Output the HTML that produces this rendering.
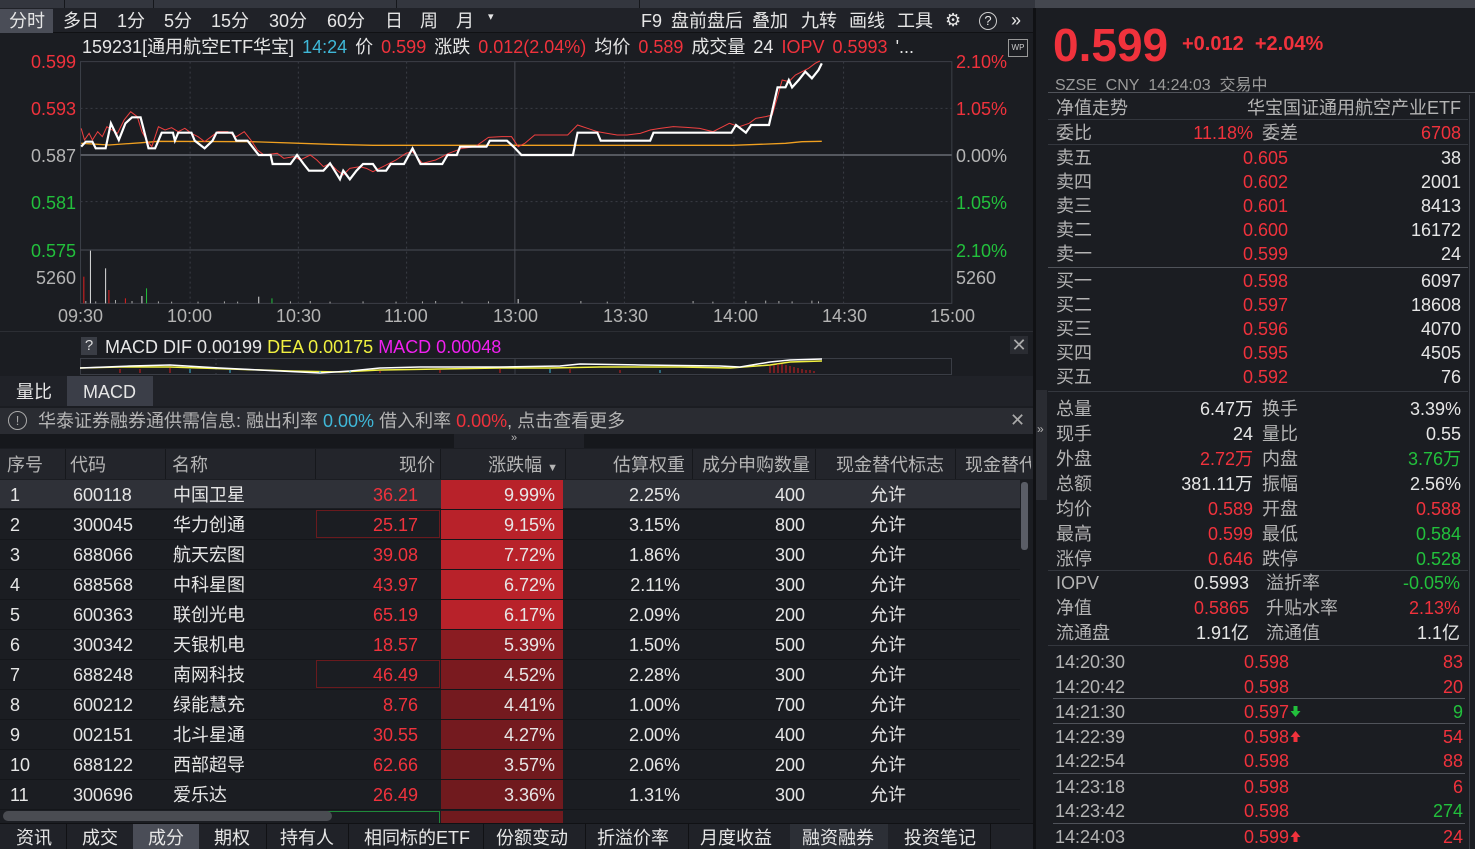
<!DOCTYPE html>
<html><head><meta charset="utf-8">
<style>
*{margin:0;padding:0;box-sizing:border-box}
body{width:1475px;height:849px;overflow:hidden;background:#1b1d22;font-family:"Liberation Sans","Noto Sans CJK SC",sans-serif;color:#d8d8d8;font-size:18px;position:relative}
.a{position:absolute;white-space:nowrap;line-height:1}
.r{color:#f0323c}.g{color:#22c03c}.w{color:#e6e6e6}.gy{color:#b4b4b4}.c{color:#3fb8d8}.y{color:#f0f040}.m{color:#f020f0}
.ra{text-align:right}
</style></head><body>
<div class="a" style="left:0;top:0;width:1475px;height:8px;background:#33363e"></div>
<div class="a" style="left:64px;top:0;width:1px;height:8px;background:#15171b"></div>
<div class="a" style="left:153px;top:0;width:1px;height:8px;background:#15171b"></div>
<div class="a" style="left:396px;top:0;width:1px;height:8px;background:#15171b"></div>
<div class="a" style="left:639px;top:0;width:1px;height:8px;background:#15171b"></div>
<div class="a" style="left:1035px;top:0;width:440px;height:8px;background:#44474f"></div>
<div class="a" style="left:0;top:8px;width:1035px;height:25px;background:#202228;border-bottom:1px solid #101114"></div>
<div class="a" style="left:0;top:9px;width:53px;height:24px;background:#4a4d57"></div>
<div class="a w" style="left:9px;top:12px">分时</div>
<div class="a w" style="left:63px;top:12px">多日</div>
<div class="a w" style="left:117px;top:12px">1分</div>
<div class="a w" style="left:164px;top:12px">5分</div>
<div class="a w" style="left:211px;top:12px">15分</div>
<div class="a w" style="left:269px;top:12px">30分</div>
<div class="a w" style="left:327px;top:12px">60分</div>
<div class="a w" style="left:385px;top:12px">日</div>
<div class="a w" style="left:420px;top:12px">周</div>
<div class="a w" style="left:456px;top:12px">月</div>
<div class="a w" style="left:488px;top:12px;font-size:11px">▾</div>
<div class="a w" style="left:641px;top:12px">F9</div>
<div class="a w" style="left:671px;top:12px">盘前盘后</div>
<div class="a w" style="left:752px;top:12px">叠加</div>
<div class="a w" style="left:801px;top:12px">九转</div>
<div class="a w" style="left:849px;top:12px">画线</div>
<div class="a w" style="left:897px;top:12px">工具</div>
<div class="a w" style="left:945px;top:11px;font-size:18px">⚙</div>
<div class="a w" style="left:979px;top:12px;width:18px;height:18px;border:1px solid #ccc;border-radius:50%;font-size:13px;text-align:center;line-height:16px">?</div>
<div class="a w" style="left:1011px;top:11px;font-size:18px">»</div>
<div class="a" style="left:82px;top:38px;font-size:18px;word-spacing:3px"><span class="w">159231[通用航空ETF华宝]</span> <span class="c">14:24</span> <span class="w">价</span> <span class="r">0.599</span> <span class="w">涨跌</span> <span class="r">0.012(2.04%)</span> <span class="w">均价</span> <span class="r">0.589</span> <span class="w">成交量</span> <span class="w">24</span> <span class="r">IOPV</span> <span class="r">0.5993</span> <span class="w">'...</span></div>
<div class="a" style="left:1008px;top:39px;width:20px;height:18px;border:1px solid #999;font-size:8px;color:#ccc;text-align:center;line-height:16px">WP</div>
<svg class="a" style="left:0;top:0" width="1035" height="330" viewBox="0 0 1568 990" preserveAspectRatio="none">
<g fill="none">
<rect x="122" y="185" width="1320" height="725" stroke="#3c3f47" stroke-width="1" vector-effect="non-scaling-stroke"/>
<g stroke="#3a3d45" stroke-dasharray="2,3" stroke-width="1">
<line x1="122" y1="325" x2="1442" y2="325" vector-effect="non-scaling-stroke"/>
<line x1="122" y1="605" x2="1442" y2="605" vector-effect="non-scaling-stroke"/>
<line x1="288" y1="185" x2="288" y2="910" vector-effect="non-scaling-stroke"/>
<line x1="452" y1="185" x2="452" y2="910" vector-effect="non-scaling-stroke"/>
<line x1="616" y1="185" x2="616" y2="910" vector-effect="non-scaling-stroke"/>
<line x1="946" y1="185" x2="946" y2="910" vector-effect="non-scaling-stroke"/>
<line x1="1112" y1="185" x2="1112" y2="910" vector-effect="non-scaling-stroke"/>
<line x1="1278" y1="185" x2="1278" y2="910" vector-effect="non-scaling-stroke"/>
</g>
<line x1="780" y1="185" x2="780" y2="910" stroke="#4a4d55" stroke-width="1" vector-effect="non-scaling-stroke"/>
<line x1="122" y1="750" x2="1442" y2="750" stroke="#4a4d55" stroke-width="1" vector-effect="non-scaling-stroke"/>
<line x1="122" y1="465" x2="1442" y2="465" stroke="#55585f" stroke-width="2" vector-effect="non-scaling-stroke"/>
<polyline stroke="#f0a020" stroke-width="1.3" vector-effect="non-scaling-stroke" points="123,430 165,435 215,428 240,424 380,425 500,433 565,436 1110,436 1190,430 1215,425 1245,424"/>
<polyline stroke="#f04040" stroke-width="1" vector-effect="non-scaling-stroke" points="123,385 128,420 135,400 140,420 148,395 155,410 162,380 170,390 178,400 188,360 198,335 208,350 215,395 222,420 230,440 240,380 250,390 260,383 270,395 280,385 290,400 300,410 310,425 320,410 330,395 345,395 358,410 370,395 380,420 390,450 400,465 420,460 430,475 445,470 455,480 470,465 480,480 490,500 500,490 510,510 520,525 530,505 545,500 555,505 565,515 580,500 600,480 615,460 625,455 640,490 660,480 680,460 700,445 720,440 740,412 760,410 775,410 785,440 795,430 810,405 830,405 860,405 875,375 890,385 905,395 920,400 935,405 950,405 970,400 985,390 1000,385 1020,380 1040,382 1060,385 1080,395 1095,380 1105,370 1120,380 1135,370 1145,355 1160,350 1170,345 1178,290 1185,240 1195,245 1205,225 1215,215 1225,205 1235,190 1242,183"/>
<polyline stroke="#ffffff" stroke-width="2.2" vector-effect="non-scaling-stroke" points="123,440 130,425 140,425 145,445 160,445 168,370 180,420 190,370 200,352 213,352 225,445 235,445 245,398 262,398 265,422 270,398 290,398 295,422 310,445 322,422 328,398 352,398 358,422 375,422 392,465 410,465 413,492 440,492 450,465 460,492 468,512 490,512 500,490 515,538 520,512 530,538 540,512 550,492 565,492 572,512 585,512 592,492 612,492 625,445 637,492 670,492 678,465 692,465 697,440 737,440 742,422 768,422 778,440 790,465 868,465 875,398 905,398 910,422 985,422 990,398 1108,398 1115,375 1130,398 1138,375 1165,375 1178,262 1190,262 1195,240 1200,262 1210,240 1220,215 1230,235 1240,210 1245,190"/>
<line x1="127" y1="910" x2="127" y2="830" stroke="#e02020" vector-effect="non-scaling-stroke"/>
<line x1="137" y1="910" x2="137" y2="752" stroke="#ddd" vector-effect="non-scaling-stroke"/>
<line x1="160" y1="910" x2="160" y2="805" stroke="#ddd" vector-effect="non-scaling-stroke"/>
<line x1="165" y1="910" x2="165" y2="870" stroke="#e02020" vector-effect="non-scaling-stroke"/>
<line x1="215" y1="910" x2="215" y2="888" stroke="#ddd" vector-effect="non-scaling-stroke"/>
<line x1="222" y1="910" x2="222" y2="865" stroke="#22c03c" vector-effect="non-scaling-stroke"/>
<line x1="190" y1="910" x2="190" y2="895" stroke="#e02020" vector-effect="non-scaling-stroke"/>
<line x1="412" y1="910" x2="412" y2="895" stroke="#22c03c" vector-effect="non-scaling-stroke"/>
<line x1="392" y1="910" x2="392" y2="890" stroke="#ddd" vector-effect="non-scaling-stroke"/>
<line x1="785" y1="910" x2="785" y2="897" stroke="#ddd" vector-effect="non-scaling-stroke"/>
<path d="M130 910V903M145 910V904M175 910V900M200 910V903M240 910V904M260 910V905M300 910V905M340 910V904M360 910V905M440 910V904M470 910V903M500 910V905M550 910V904M600 910V905M640 910V904M660 910V903M700 910V905M740 910V904M880 910V903M920 910V905M1050 910V903M1080 910V905M1130 910V903M1160 910V902M1180 910V903M1200 910V904M1230 910V902M1240 910V904" stroke="#aaa" vector-effect="non-scaling-stroke"/>
</g>
</svg>
<div class="a r ra" style="left:20px;width:56px;top:53px">0.599</div>
<div class="a r ra" style="left:20px;width:56px;top:100px">0.593</div>
<div class="a gy ra" style="left:20px;width:56px;top:147px">0.587</div>
<div class="a g ra" style="left:20px;width:56px;top:194px">0.581</div>
<div class="a g ra" style="left:20px;width:56px;top:242px">0.575</div>
<div class="a gy ra" style="left:20px;width:56px;top:269px">5260</div>
<div class="a r" style="left:956px;top:53px">2.10%</div>
<div class="a r" style="left:956px;top:100px">1.05%</div>
<div class="a gy" style="left:956px;top:147px">0.00%</div>
<div class="a g" style="left:956px;top:194px">1.05%</div>
<div class="a g" style="left:956px;top:242px">2.10%</div>
<div class="a gy" style="left:956px;top:269px">5260</div>
<div class="a gy" style="left:58px;top:307px">09:30</div>
<div class="a gy" style="left:167px;top:307px">10:00</div>
<div class="a gy" style="left:276px;top:307px">10:30</div>
<div class="a gy" style="left:384px;top:307px">11:00</div>
<div class="a gy" style="left:493px;top:307px">13:00</div>
<div class="a gy" style="left:603px;top:307px">13:30</div>
<div class="a gy" style="left:713px;top:307px">14:00</div>
<div class="a gy" style="left:822px;top:307px">14:30</div>
<div class="a gy" style="left:930px;top:307px">15:00</div>
<div class="a" style="left:0;top:331px;width:1033px;height:1px;background:#2c2e34"></div>
<div class="a" style="left:81px;top:337px;width:16px;height:18px;background:#3a3d45;color:#ddd;font-size:15px;text-align:center;line-height:18px">?</div>
<div class="a" style="left:105px;top:338px"><span class="w">MACD DIF 0.00199</span> <span class="y">DEA 0.00175</span> <span class="m">MACD 0.00048</span></div>
<div class="a" style="left:1010px;top:336px;width:18px;height:18px;color:#aaa;font-size:18px;background:#2a2c32;text-align:center;line-height:18px">✕</div>
<svg class="a" style="left:80px;top:358px" width="872" height="17">
<rect x="0.5" y="0.5" width="871" height="16" fill="none" stroke="#3a3d45"/>
<line x1="136" y1="0" x2="136" y2="17" stroke="#3a3d45" stroke-dasharray="2,3"/>
<line x1="435" y1="0" x2="435" y2="17" stroke="#3a3d45"/>
<polyline fill="none" stroke="#f0f040" stroke-width="1.5" points="0,10 40,9 90,9 150,11 210,13 260,14 300,12 360,11 420,10 470,10 520,9 600,9 650,10 690,7 710,4 742,3"/>
<polyline fill="none" stroke="#fff" stroke-width="1.5" points="0,10 50,8 90,7 140,10 200,13 240,15 270,13 300,10 340,9 420,9 480,8 500,6 560,7 640,8 660,9 690,4 710,2 742,1"/>
<path d="M690 15V8M694 15V7M698 15V6M702 15V6M706 15V7M710 15V8M714 15V9M718 15V10M722 15V11M726 15V12M730 15V12M734 15V13M40 15V11M60 15V11M90 15V10M300 15V13M360 15V12M420 15V11M540 15V12M490 15V11" stroke="#d02020"/>
<path d="M110 11V15M150 12V15M240 13V15M270 13V15M470 11V15M580 12V15" stroke="#3fb8d8"/>
</svg>
<div class="a" style="left:0;top:376px;width:1033px;height:30px;background:#202228"></div>
<div class="a w" style="left:16px;top:383px">量比</div>
<div class="a" style="left:67px;top:376px;width:86px;height:30px;background:#3b3e48"></div>
<div class="a w" style="left:83px;top:383px">MACD</div>
<div class="a" style="left:0;top:408px;width:1033px;height:26px;background:#2a2c32"></div>
<div class="a" style="left:8px;top:411px;width:19px;height:19px;border:1px solid #aaa;border-radius:50%;color:#aaa;font-size:13px;text-align:center;line-height:17px">!</div>
<div class="a gy" style="left:38px;top:412px">华泰证券融券通供需信息: 融出利率 <span class="c">0.00%</span> 借入利率 <span class="r">0.00%</span>, 点击查看更多</div>
<div class="a" style="left:1010px;top:411px;color:#aaa;font-size:18px">✕</div>
<div class="a" style="left:0;top:434px;width:1033px;height:14px;background:#16181c"></div>
<div class="a" style="left:454px;top:434px;width:130px;height:14px;background:#202228"></div>
<div class="a gy" style="left:511px;top:433px;font-size:11px">»</div>
<div class="a" style="left:0;top:449px;width:1033px;height:30px;background:#23252b"></div>
<div class="a gy" style="left:7px;top:456px">序号</div>
<div class="a gy" style="left:70px;top:456px">代码</div>
<div class="a gy" style="left:172px;top:456px">名称</div>
<div class="a gy ra" style="left:330px;width:105px;top:456px">现价</div>
<div class="a gy ra" style="left:450px;width:108px;top:456px">涨跌幅 <span style="font-size:11px">▼</span></div>
<div class="a gy ra" style="left:570px;width:115px;top:456px">估算权重</div>
<div class="a gy ra" style="left:690px;width:120px;top:456px">成分申购数量</div>
<div class="a gy" style="left:836px;top:456px">现金替代标志</div>
<div class="a gy" style="left:965px;top:456px;width:66px;overflow:hidden">现金替代</div>
<div class="a" style="left:65px;top:449px;width:1px;height:30px;background:#16181c"></div>
<div class="a" style="left:165px;top:449px;width:1px;height:30px;background:#16181c"></div>
<div class="a" style="left:315px;top:449px;width:1px;height:30px;background:#16181c"></div>
<div class="a" style="left:440px;top:449px;width:1px;height:30px;background:#16181c"></div>
<div class="a" style="left:565px;top:449px;width:1px;height:30px;background:#16181c"></div>
<div class="a" style="left:692px;top:449px;width:1px;height:30px;background:#16181c"></div>
<div class="a" style="left:815px;top:449px;width:1px;height:30px;background:#16181c"></div>
<div class="a" style="left:955px;top:449px;width:1px;height:30px;background:#16181c"></div>
<div class="a" style="left:0;top:480px;width:1020px;height:28px;background:#2f3138"></div>
<div class="a" style="left:1021px;top:482px;width:7px;height:68px;background:#5a5d66;border-radius:3px"></div>
<div id="rows"></div>
<div class="a" style="left:316px;top:510px;width:124px;height:28px;border:1px solid #6a1a1e"></div>
<div class="a" style="left:316px;top:660px;width:124px;height:28px;border:1px solid #6a1a1e"></div>
<div class="a" style="left:441px;top:811px;width:122px;height:12px;background:#701a1e"></div>
<div class="a" style="left:316px;top:811px;width:124px;height:12px;border-top:1px solid #1f8a3a;border-right:1px solid #1f8a3a"></div>
<div class="a" style="left:3px;top:811px;width:329px;height:10px;background:#4a4c52;border-radius:5px"></div>
<div class="a" style="left:0;top:823px;width:1033px;height:26px;background:#202228;border-top:1px solid #101114"></div>
<div class="a" style="left:133px;top:824px;width:66px;height:25px;background:#4a4d57"></div>
<div class="a" style="left:790px;top:824px;width:98px;height:25px;background:#2c2f36"></div>
<div class="a w" style="left:16px;top:829px">资讯</div>
<div class="a w" style="left:82px;top:829px">成交</div>
<div class="a w" style="left:148px;top:829px">成分</div>
<div class="a w" style="left:214px;top:829px">期权</div>
<div class="a w" style="left:280px;top:829px">持有人</div>
<div class="a w" style="left:364px;top:829px">相同标的ETF</div>
<div class="a w" style="left:496px;top:829px">份额变动</div>
<div class="a w" style="left:597px;top:829px">折溢价率</div>
<div class="a w" style="left:700px;top:829px">月度收益</div>
<div class="a w" style="left:802px;top:829px">融资融券</div>
<div class="a w" style="left:904px;top:829px">投资笔记</div>
<div class="a" style="left:66px;top:824px;width:1px;height:25px;background:#101114"></div>
<div class="a" style="left:266px;top:824px;width:1px;height:25px;background:#101114"></div>
<div class="a" style="left:348px;top:824px;width:1px;height:25px;background:#101114"></div>
<div class="a" style="left:483px;top:824px;width:1px;height:25px;background:#101114"></div>
<div class="a" style="left:585px;top:824px;width:1px;height:25px;background:#101114"></div>
<div class="a" style="left:688px;top:824px;width:1px;height:25px;background:#101114"></div>
<div class="a" style="left:990px;top:824px;width:1px;height:25px;background:#101114"></div>
<div class="a" style="left:1033px;top:8px;width:3px;height:841px;background:#101114"></div>
<div class="a" style="left:1036px;top:390px;width:11px;height:110px;background:#2a2c32"></div>
<div class="a gy" style="left:1037px;top:423px;font-size:12px">»</div>
<div class="a r" style="left:1053px;top:22px;font-size:46px;font-weight:bold">0.599</div>
<div class="a r" style="left:1182px;top:34px;font-size:20px;font-weight:bold">+0.012&nbsp;&nbsp;+2.04%</div>
<div class="a gy" style="left:1055px;top:78px;font-size:16px;color:#9a9a9a">SZSE&nbsp;&nbsp;CNY&nbsp;&nbsp;14:24:03&nbsp;&nbsp;交易中</div>
<div class="a" style="left:1048px;top:92px;width:427px;height:1px;background:#50535a"></div>
<div class="a" style="left:1469px;top:95px;width:1px;height:754px;background:#3a3d45"></div>
<div class="a gy" style="left:1056px;top:99px">净值走势</div>
<div class="a gy ra" style="left:1200px;width:261px;top:99px">华宝国证通用航空产业ETF</div>
<div class="a" style="left:1048px;top:119px;width:420px;height:1px;background:#34373e"></div>
<div class="a gy" style="left:1056px;top:124px">委比</div>
<div class="a r ra" style="left:1150px;width:103px;top:124px">11.18%</div>
<div class="a gy" style="left:1262px;top:124px">委差</div>
<div class="a r ra" style="left:1380px;width:81px;top:124px">6708</div>
<div class="a" style="left:1048px;top:144px;width:420px;height:1px;background:#34373e"></div>
<div id="ob"></div>
<div class="a" style="left:1048px;top:267px;width:420px;height:1px;background:#50535a"></div>
<div class="a" style="left:1048px;top:391px;width:420px;height:1px;background:#34373e"></div>
<div id="st"></div>
<div class="a" style="left:1048px;top:570px;width:420px;height:1px;background:#34373e"></div>
<div class="a" style="left:1048px;top:645px;width:420px;height:1px;background:#34373e"></div>
<div id="tk"></div>
<script>
var rows=[["1","600118","中国卫星","36.21","9.99%","2.25%","400","#b8222a"],["2","300045","华力创通","25.17","9.15%","3.15%","800","#b8222a"],["3","688066","航天宏图","39.08","7.72%","1.86%","300","#b8222a"],["4","688568","中科星图","43.97","6.72%","2.11%","300","#b8222a"],["5","600363","联创光电","65.19","6.17%","2.09%","200","#b8222a"],["6","300342","天银机电","18.57","5.39%","1.50%","500","#8a1c22"],["7","688248","南网科技","46.49","4.52%","2.28%","300","#7a1a1f"],["8","600212","绿能慧充","8.76","4.41%","1.00%","700","#741a1f"],["9","002151","北斗星通","30.55","4.27%","2.00%","400","#741a1f"],["10","688122","西部超导","62.66","3.57%","2.06%","200","#701a1e"],["11","300696","爱乐达","26.49","3.36%","1.31%","300","#701a1e"]];
var h="";rows.forEach(function(r,i){var t=480+i*30;
h+='<div class="a" style="left:0;top:'+(t+29)+'px;width:1020px;height:1px;background:#14161a"></div>';
h+='<div class="a" style="left:441px;top:'+t+'px;width:122px;height:29px;background:'+r[7]+'"></div>';
var y=t+6;
h+='<div class="a w" style="left:10px;top:'+y+'px">'+r[0]+'</div><div class="a w" style="left:73px;top:'+y+'px">'+r[1]+'</div><div class="a w" style="left:173px;top:'+y+'px">'+r[2]+'</div><div class="a r ra" style="left:330px;width:88px;top:'+y+'px">'+r[3]+'</div><div class="a w ra" style="left:450px;width:105px;top:'+y+'px">'+r[4]+'</div><div class="a w ra" style="left:570px;width:110px;top:'+y+'px">'+r[5]+'</div><div class="a w ra" style="left:700px;width:105px;top:'+y+'px">'+r[6]+'</div><div class="a w" style="left:870px;top:'+y+'px">允许</div>';});
document.getElementById("rows").innerHTML=h;
var ob=[["卖五","0.605","38"],["卖四","0.602","2001"],["卖三","0.601","8413"],["卖二","0.600","16172"],["卖一","0.599","24"],["买一","0.598","6097"],["买二","0.597","18608"],["买三","0.596","4070"],["买四","0.595","4505"],["买五","0.592","76"]];
h="";ob.forEach(function(o,i){var y=149+i*24+(i>=5?3:0);
h+='<div class="a gy" style="left:1056px;top:'+y+'px">'+o[0]+'</div><div class="a r" style="left:1243px;top:'+y+'px">'+o[1]+'</div><div class="a w ra" style="left:1360px;width:101px;top:'+y+'px">'+o[2]+'</div>';});
document.getElementById("ob").innerHTML=h;
var st=[["总量","6.47万","w","换手","3.39%","w"],["现手","24","w","量比","0.55","w"],["外盘","2.72万","r","内盘","3.76万","g"],["总额","381.11万","w","振幅","2.56%","w"],["均价","0.589","r","开盘","0.588","r"],["最高","0.599","r","最低","0.584","g"],["涨停","0.646","r","跌停","0.528","g"]];
h="";st.forEach(function(s,i){var y=400+i*25;
h+='<div class="a gy" style="left:1056px;top:'+y+'px">'+s[0]+'</div><div class="a ra '+s[2]+'" style="left:1150px;width:103px;top:'+y+'px">'+s[1]+'</div><div class="a gy" style="left:1262px;top:'+y+'px">'+s[3]+'</div><div class="a ra '+s[5]+'" style="left:1360px;width:101px;top:'+y+'px">'+s[4]+'</div>';});
var io=[["IOPV","0.5993","w","溢折率","-0.05%","g"],["净值","0.5865","r","升贴水率","2.13%","r"],["流通盘","1.91亿","w","流通值","1.1亿","w"]];
io.forEach(function(s,i){var y=574+i*25;
h+='<div class="a gy" style="left:1056px;top:'+y+'px">'+s[0]+'</div><div class="a ra '+s[2]+'" style="left:1150px;width:99px;top:'+y+'px">'+s[1]+'</div><div class="a gy" style="left:1266px;top:'+y+'px">'+s[3]+'</div><div class="a ra '+s[5]+'" style="left:1360px;width:100px;top:'+y+'px">'+s[4]+'</div>';});
document.getElementById("st").innerHTML=h;
var up='<svg width="11" height="13" style="margin-left:1px"><path d="M5.5 1L10.5 7H7.5V12H3.5V7H0.5Z" fill="#f0323c"/></svg>';
var dn='<svg width="11" height="13" style="margin-left:1px"><path d="M5.5 12L10.5 6H7.5V1H3.5V6H0.5Z" fill="#22c03c"/></svg>';
var tk=[["14:20:30","0.598","","83","r",653],["14:20:42","0.598","","20","r",678],["14:21:30","0.597",dn,"9","g",703],["14:22:39","0.598",up,"54","r",728],["14:22:54","0.598","","88","r",752],["14:23:18","0.598","","6","r",778],["14:23:42","0.598","","274","g",802],["14:24:03","0.599",up,"24","r",828]];
h="";tk.forEach(function(t){var y=t[5];
h+='<div class="a gy" style="left:1055px;top:'+y+'px;font-size:18px">'+t[0]+'</div><div class="a r" style="left:1244px;top:'+y+'px;font-size:18px">'+t[1]+t[2]+'</div><div class="a ra '+t[4]+'" style="left:1360px;width:103px;top:'+y+'px;font-size:18px">'+t[3]+'</div>';});
[698,723,773,823].forEach(function(y){h+='<div class="a" style="left:1053px;top:'+y+'px;width:412px;height:1px;background:#50535a"></div>';});
document.getElementById("tk").innerHTML=h;
</script>
</body></html>
